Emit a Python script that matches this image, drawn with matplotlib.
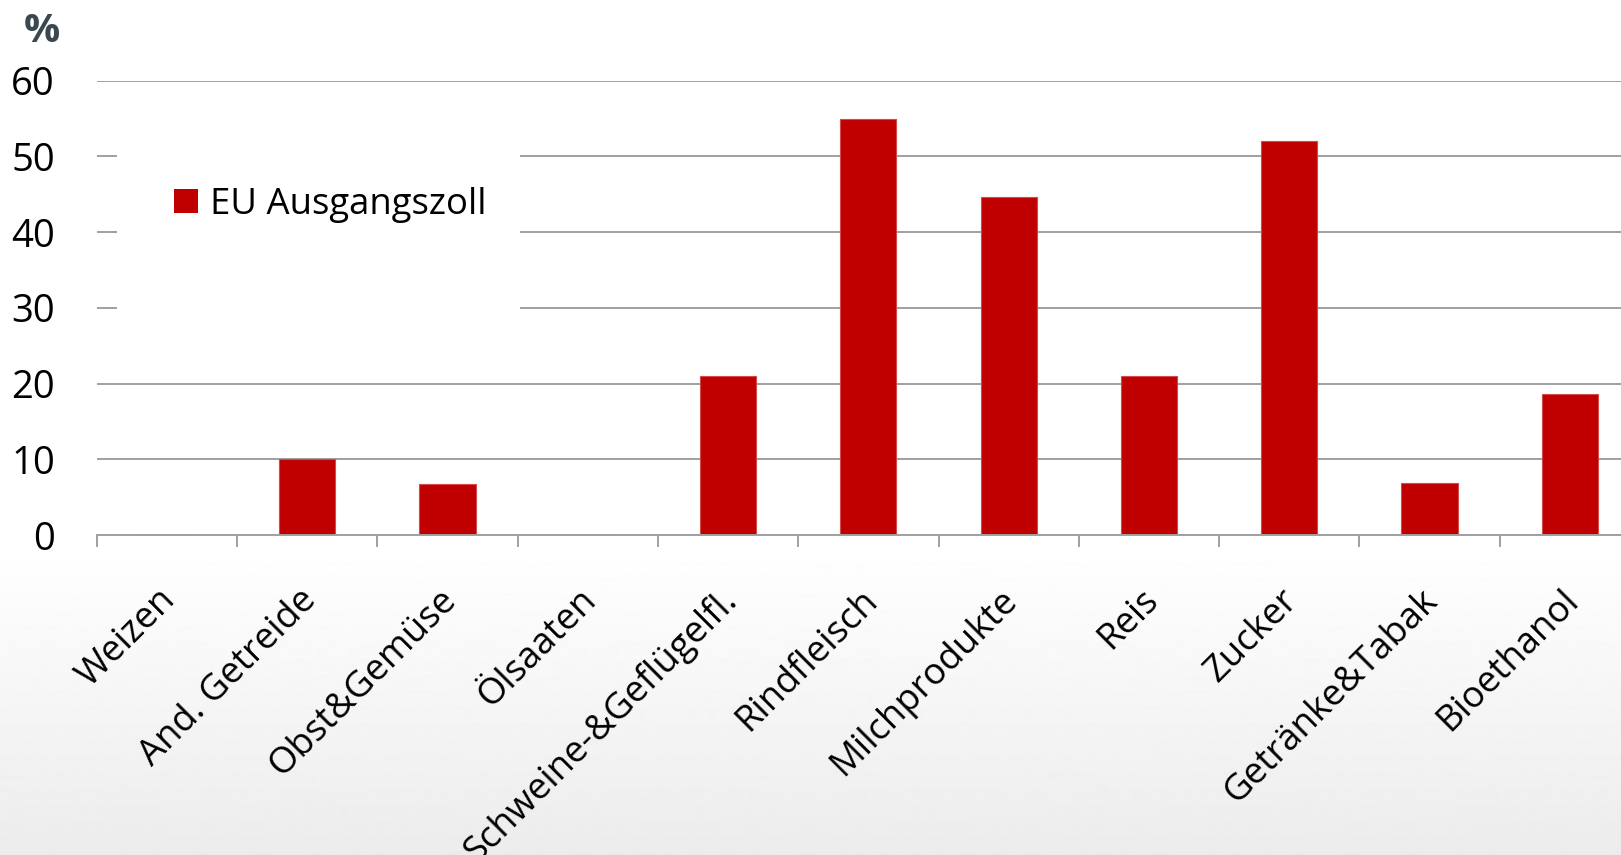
import matplotlib
matplotlib.use("Agg")
import matplotlib.pyplot as plt
import matplotlib.transforms as mtransforms
import numpy as np
from matplotlib.patches import Rectangle, Patch

# data
categories = ["Weizen", "And. Getreide", "Obst&Gemüse", "Ölsaaten",
              "Schweine-&Geflügelfl.", "Rindfleisch", "Milchprodukte",
              "Reis", "Zucker", "Getränke&Tabak", "Bioethanol"]
zoll = [0, 10, 6.7, 0, 21, 55, 44.6, 21, 52, 6.9, 18.6]
y_ticks = [0, 10, 20, 30, 40, 50, 60]
series_name = "EU Ausgangszoll"

plt.rcParams['font.family'] = ['Open Sans', 'DejaVu Sans']

W, H = 1621, 855
fig = plt.figure(figsize=(W / 100, H / 100), dpi=100)

# background gradient (white -> light grey at the bottom)
bg = fig.add_axes([0, 0, 1, 1], zorder=-10)
grad = np.ones((H, 1))
rows = np.arange(H)
start = 545
grad[rows >= start, 0] = 1 - (rows[rows >= start] - start) / (H - start) * 0.075
bg.imshow(grad, aspect='auto', cmap='gray', vmin=0, vmax=1, extent=[0, 1, 0, 1], origin='upper')
bg.axis('off')

# axes in pixel layout (plot is cut off on the right like the source)
left, right, top, bottom = 96.7, 96.7 + 11 * 140.3, 80.7, 535
ax = fig.add_axes([left / W, 1 - bottom / H, (right - left) / W, (bottom - top) / H])
ax.patch.set_alpha(0)

x = np.arange(len(categories))
ax.bar(x, zoll, width=0.4, color='#C00000', edgecolor='#d24a4a', linewidth=0.8, zorder=3)

ax.set_xlim(-0.5, len(categories) - 0.5)
ax.set_ylim(0, 60)
ax.set_yticks(y_ticks)
ax.grid(axis='y', color='#a0a0a0', linewidth=1.4, zorder=0)
ax.set_axisbelow(True)

for s in ['top', 'right', 'left']:
    ax.spines[s].set_visible(False)
ax.spines['bottom'].set_color('#a0a0a0')
ax.spines['bottom'].set_linewidth(1.4)
ax.spines['bottom'].set_zorder(4)

ax.tick_params(axis='y', length=0, pad=30, labelsize=27.5, labelcolor='black')
ax.set_xticks(x)
ax.set_xticks(np.arange(-0.5, len(categories), 1), minor=True)
ax.tick_params(axis='x', which='minor', length=8.6, width=1.4, color='#a0a0a0')
ax.tick_params(axis='x', which='major', length=0, pad=34)
ax.set_xticklabels(categories, rotation=45, ha='right', rotation_mode='anchor', fontsize=26.3)
offset = mtransforms.ScaledTranslation(-9 / 100, 0, fig.dpi_scale_trans)
for lbl in ax.get_xticklabels():
    lbl.set_transform(lbl.get_transform() + offset)

# white legend box hiding the gridlines behind it
box = Rectangle((117 / W, 1 - 330 / H), (520 - 117) / W, (330 - 130) / H,
                transform=fig.transFigure, facecolor='white', edgecolor='none', zorder=1)
ax.add_artist(box)
box.set_transform(fig.transFigure)
box.set_zorder(1)

leg = ax.legend(handles=[Patch(facecolor='#C00000', label=series_name)],
                loc='center left', bbox_to_anchor=(141 / W, 1 - 205 / H),
                bbox_transform=fig.transFigure, frameon=False, fontsize=26.3,
                handlelength=0.65, handleheight=0.65, handletextpad=0.35)
leg.set_zorder(5)

fig.text(42 / W, 1 - 31 / H, "%", fontsize=29, fontweight='bold', color='#3a4850',
         ha='center', va='center')

fig.savefig("out.png", dpi=100)
